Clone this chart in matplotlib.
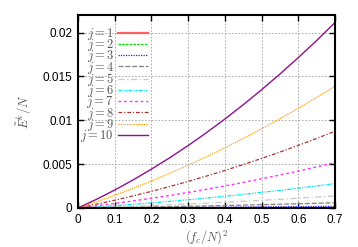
import matplotlib
matplotlib.use("Agg")
import matplotlib.pyplot as plt

plt.rcParams['mathtext.fontset'] = 'cm'
plt.rcParams['font.family'] = ['Liberation Sans', 'DejaVu Sans']

x = [0.0, 0.05, 0.1, 0.15, 0.2, 0.25, 0.3, 0.35, 0.4, 0.45, 0.5, 0.55, 0.6, 0.65, 0.7]

e1 = [0, 0.0, 0.0, 0.0, 0.0, 0.0, 0.0, 0.0, 0.0, 0.00001, 0.00001, 0.00001, 0.00001, 0.00001, 0.00001]
e2 = [0, 0.0, 0.0, 0.00001, 0.00001, 0.00001, 0.00002, 0.00002, 0.00002, 0.00003, 0.00003, 0.00004, 0.00004, 0.00005, 0.00005]
e3 = [0, 0.00001, 0.00002, 0.00003, 0.00004, 0.00005, 0.00007, 0.00008, 0.00009, 0.00011, 0.00013, 0.00014, 0.00016, 0.00018, 0.0002]
e4 = [0, 0.00003, 0.00005, 0.00008, 0.00012, 0.00016, 0.0002, 0.00024, 0.00028, 0.00033, 0.00038, 0.00043, 0.00048, 0.00054, 0.0006]
e5 = [0, 0.00006, 0.00013, 0.0002, 0.00028, 0.00037, 0.00046, 0.00055, 0.00066, 0.00076, 0.00088, 0.00099, 0.00112, 0.00125, 0.00138]
e6 = [0, 0.00013, 0.00027, 0.00042, 0.00058, 0.00076, 0.00094, 0.00113, 0.00134, 0.00155, 0.00178, 0.00201, 0.00226, 0.00251, 0.00278]
e7 = [0, 0.00025, 0.00052, 0.0008, 0.00111, 0.00143, 0.00177, 0.00213, 0.00251, 0.00291, 0.00333, 0.00376, 0.00421, 0.00468, 0.00517]
e8 = [0, 0.00043, 0.00089, 0.00138, 0.0019, 0.00245, 0.00303, 0.00364, 0.00428, 0.00495, 0.00565, 0.00638, 0.00714, 0.00793, 0.00875]
e9 = [0, 0.0007, 0.00145, 0.00224, 0.00308, 0.00396, 0.00488, 0.00585, 0.00686, 0.00792, 0.00903, 0.01017, 0.01136, 0.0126, 0.01388]
e10 = [0, 0.000985, 0.00205, 0.0032, 0.00443, 0.00573, 0.00712, 0.00859, 0.01014, 0.01177, 0.01348, 0.01527, 0.01714, 0.01909, 0.02114]

series = [e1, e2, e3, e4, e5, e6, e7, e8, e9, e10]
labels = [r'$j=%d$' % k for k in range(1, 11)]
xticks = [0, 0.1, 0.2, 0.3, 0.4, 0.5, 0.6, 0.7]
yticks = [0, 0.005, 0.01, 0.015, 0.02]
ytick_labels = ['0', '0.005', '0.01', '0.015', '0.02']

colors = ['#ff6060', '#00e000', '#2020ff', '#808080', '#c8c8c8',
          '#00e8e8', '#ff30ff', '#b03030', '#ffa820', '#901090']
styles = ['-', (0, (2, 1)), (0, (1, 1)), (0, (4, 1.5)), (0, (5, 2, 1, 2)),
          (0, (3, 1, 1, 1, 1, 1)), (0, (2, 2)), (0, (3, 1.5, 1, 1.5)), (0, (1, 0.7)), '-']
widths = [1.6, 0.9, 0.9, 0.9, 0.9, 0.9, 1.0, 0.9, 0.9, 1.0]

fig = plt.figure(figsize=(3.58, 2.47), dpi=100)
ax = fig.add_axes([78 / 358, 1 - 208 / 247, 257 / 358, 193 / 247])

for s, lab, c, ls, lw in zip(series, labels, colors, styles, widths):
    ax.plot(x, s, color=c, linestyle=ls, linewidth=lw, label=lab)

ax.set_xlim(0, 0.7)
ax.set_ylim(0, 0.022)
ax.set_xticks(xticks)
ax.set_xticklabels(['0', '0.1', '0.2', '0.3', '0.4', '0.5', '0.6', '0.7'])
ax.set_yticks(yticks)
ax.set_yticklabels(ytick_labels)
ax.tick_params(direction='in', top=True, right=True, length=4, width=1,
               labelsize=8.5, pad=4)
ax.grid(True, color='#a0a0a0', linestyle=(0, (2, 2)), linewidth=0.6)
for sp in ax.spines.values():
    sp.set_linewidth(1.5)

ax.set_xlabel(r'$(f_c/N)^2$', fontsize=9, color='#555555', labelpad=2)
ax.set_ylabel(r'$\tilde{E}^k/N$', fontsize=9, color='#555555', labelpad=6)

leg = ax.legend(loc='upper left', frameon=False, markerfirst=False,
                fontsize=9, labelspacing=-0.38, handlelength=2.4,
                handletextpad=0.35, borderaxespad=0.0, borderpad=0.2,
                bbox_to_anchor=(0.0, 0.956))
for t in leg.get_texts():
    t.set_color('#555555')

fig.savefig('out.png', dpi=100)
